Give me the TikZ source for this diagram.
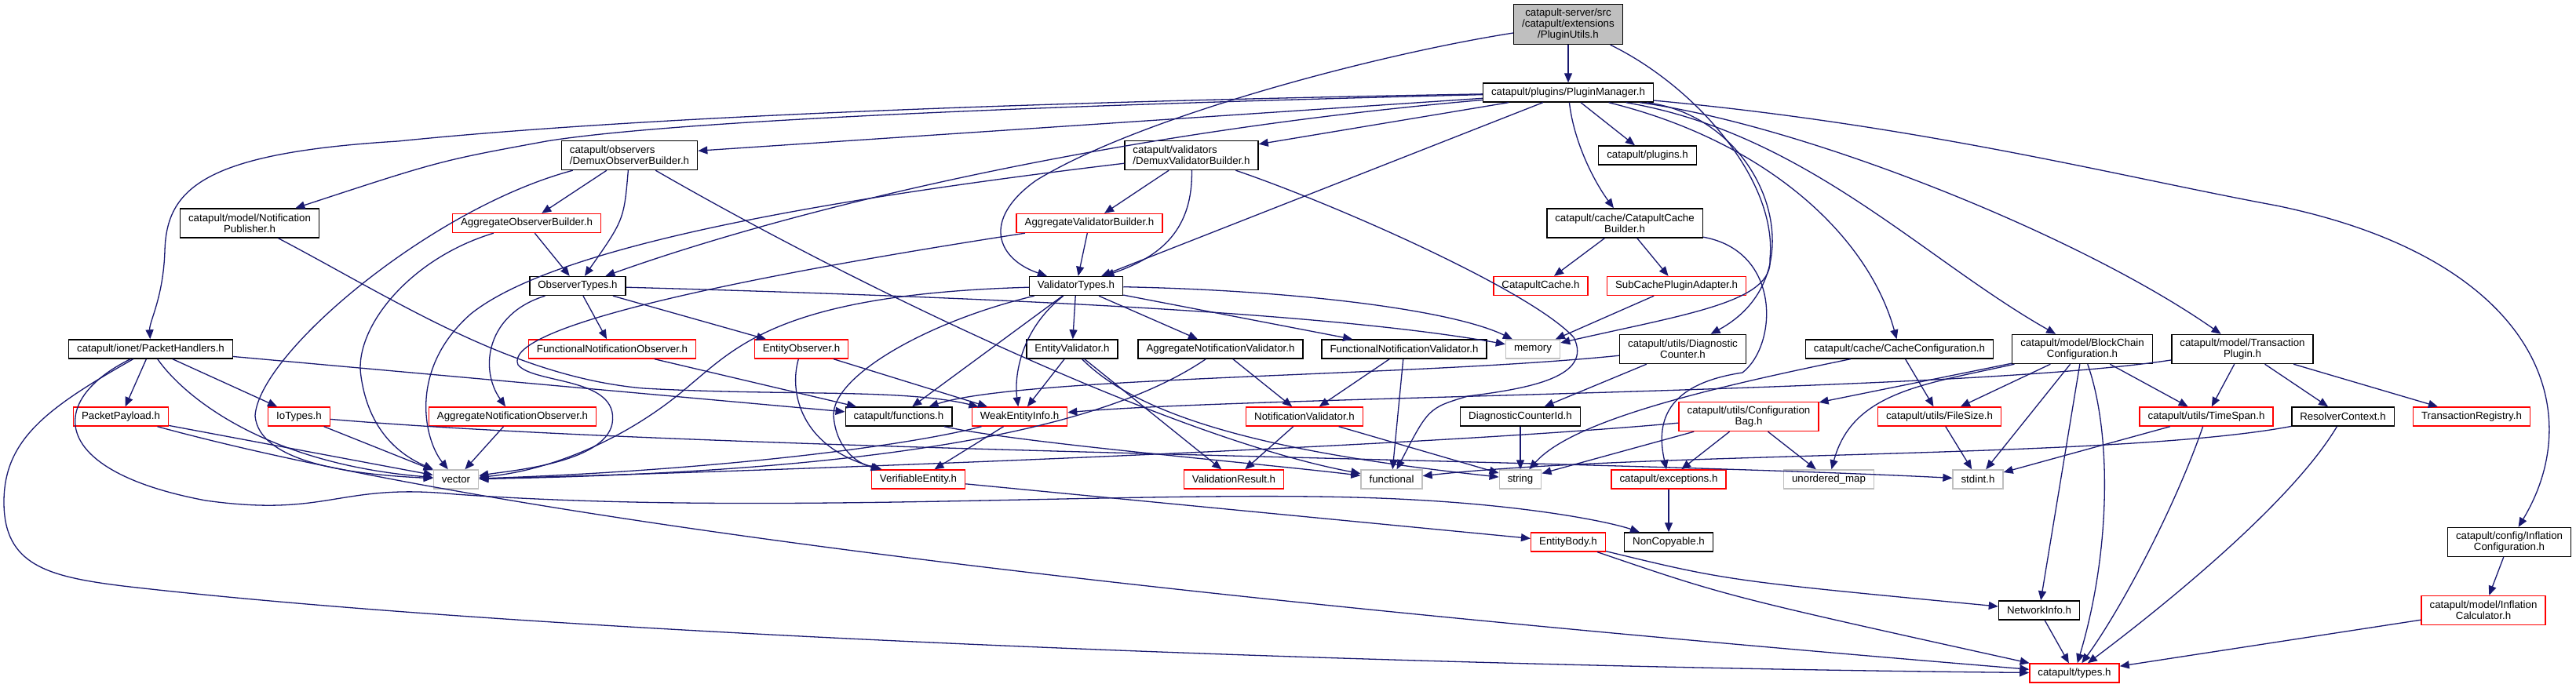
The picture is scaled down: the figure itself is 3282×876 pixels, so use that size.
\documentclass[tikz,border=0pt]{standalone}
\usepackage{fontspec}
\setmainfont{Liberation Sans}
\usetikzlibrary{arrows.meta}
\definecolor{edgeblue}{HTML}{191970}
\definecolor{sysgray}{HTML}{BFBFBF}
\begin{document}
\begin{tikzpicture}[x=1pt, y=-1pt,
    hdr/.style={draw=black, fill=white, line width=1.4pt, inner xsep=10.5pt, inner ysep=0pt,
      minimum height=24pt, font=\fontsize{13.3}{14}\selectfont},
    redhdr/.style={hdr, draw=red},
    syshdr/.style={hdr, draw=sysgray},
    two/.style={minimum height=37pt, align=center},
    twoleft/.style={minimum height=37pt, align=left},
    dep/.style={draw=edgeblue, line width=1.3pt, -{Triangle[length=12pt, width=10pt]}}]
    \useasboundingbox (0,0) rectangle (3282,876);

    % Define node positions
    \node[hdr, two, minimum height=51pt, fill=sysgray] (root) at (1998,31) {catapult-server/src\\/catapult/extensions\\/PluginUtils.h};
    \node[hdr] (pm) at (1998,118) {catapult/plugins/PluginManager.h};
    \node[hdr, twoleft] (dob) at (802,198) {catapult/observers\\/DemuxObserverBuilder.h};
    \node[hdr, twoleft] (dvb) at (1518,198) {catapult/validators\\/DemuxValidatorBuilder.h};
    \node[hdr] (plg) at (2099,198) {catapult/plugins.h};
    \node[hdr, two] (np) at (318,284.5) {catapult/model/Notification\\Publisher.h};
    \node[redhdr] (aob) at (671,284.5) {AggregateObserverBuilder.h};
    \node[redhdr] (avb) at (1388,284.5) {AggregateValidatorBuilder.h};
    \node[hdr, two] (ccb) at (2070,284.5) {catapult/cache/CatapultCache\\Builder.h};
    \node[hdr] (ot) at (736,364.5) {ObserverTypes.h};
    \node[hdr] (vt) at (1371,364.5) {ValidatorTypes.h};
    \node[redhdr] (cc) at (1963,364.5) {CatapultCache.h};
    \node[redhdr] (scpa) at (2136,364.5) {SubCachePluginAdapter.h};
    \node[hdr] (ph) at (192,445) {catapult/ionet/PacketHandlers.h};
    \node[redhdr] (fno) at (780,445) {FunctionalNotificationObserver.h};
    \node[redhdr] (eo) at (1021,445) {EntityObserver.h};
    \node[hdr] (ev) at (1366,445) {EntityValidator.h};
    \node[hdr] (anv) at (1555,445) {AggregateNotificationValidator.h};
    \node[hdr] (fnv) at (1789,445) {FunctionalNotificationValidator.h};
    \node[syshdr] (mem) at (1953,445) {memory};
    \node[hdr, two] (dc) at (2144,445) {catapult/utils/Diagnostic\\Counter.h};
    \node[hdr] (cconf) at (2420,445) {catapult/cache/CacheConfiguration.h};
    \node[hdr, two] (bcc) at (2653,445) {catapult/model/BlockChain\\Configuration.h};
    \node[hdr, two] (tp) at (2857,445) {catapult/model/Transaction\\Plugin.h};
    \node[redhdr] (pp) at (154,531) {PacketPayload.h};
    \node[redhdr] (iot) at (381,531) {IoTypes.h};
    \node[redhdr] (ano) at (653,531) {AggregateNotificationObserver.h};
    \node[hdr] (fun) at (1145,531) {catapult/functions.h};
    \node[redhdr] (wei) at (1299,531) {WeakEntityInfo.h};
    \node[redhdr] (nv) at (1662,531) {NotificationValidator.h};
    \node[hdr] (dcid) at (1937,531) {DiagnosticCounterId.h};
    \node[redhdr, two] (cb) at (2228,531) {catapult/utils/Configuration\\Bag.h};
    \node[redhdr] (fs) at (2471,531) {catapult/utils/FileSize.h};
    \node[redhdr] (ts) at (2811,531) {catapult/utils/TimeSpan.h};
    \node[hdr] (rc) at (2985,531) {ResolverContext.h};
    \node[redhdr] (tr) at (3149,531) {TransactionRegistry.h};
    \node[syshdr] (vec) at (581,611) {vector};
    \node[redhdr] (ve) at (1170,611) {VerifiableEntity.h};
    \node[redhdr] (vr) at (1572,611) {ValidationResult.h};
    \node[syshdr] (fnl) at (1773,611) {functional};
    \node[syshdr] (str) at (1937,611) {string};
    \node[redhdr] (exc) at (2126,611) {catapult/exceptions.h};
    \node[syshdr] (um) at (2330,611) {unordered\_map};
    \node[syshdr] (si) at (2520,611) {stdint.h};
    \node[redhdr] (eb) at (1998,691) {EntityBody.h};
    \node[hdr] (nc) at (2126,691) {NonCopyable.h};
    \node[hdr, two] (ic) at (3197,691) {catapult/config/Inflation\\Configuration.h};
    \node[hdr] (ni) at (2598,778) {NetworkInfo.h};
    \node[redhdr, two] (icalc) at (3164,778) {catapult/model/Inflation\\Calculator.h};
    \node[redhdr] (ty) at (2643,858) {catapult/types.h};

    % Draw arrows
    \draw[dep] (root) -- (pm);
    \draw[dep] (root) .. controls (1750,70) and (1450,150) .. (1320,230) .. controls (1250,280) and (1270,330) .. (vt);
    \draw[dep] (root) .. controls (2160,110) and (2265,230) .. (2255,330) .. controls (2260,385) and (2150,400) .. (mem);

    \draw[dep] (pm) .. controls (1300,130) and (800,150) .. (507,180) .. controls (260,195) and (212,240) .. (210,320) .. controls (208,380) and (190,410) .. (ph);
    \draw[dep] (pm) .. controls (1300,135) and (850,155) .. (696,180) .. controls (560,205) .. (np);
    \draw[dep] (pm) -- (dob);
    \draw[dep] (pm) -- (dvb);
    \draw[dep] (pm) -- (plg);
    \draw[dep] (pm) .. controls (2005,180) and (2030,230) .. (ccb);
    \draw[dep] (pm) .. controls (1400,170) and (1000,270) .. (ot);
    \draw[dep] (pm) -- (vt);
    \draw[dep] (pm) .. controls (2250,150) and (2320,350) .. (dc);
    \draw[dep] (pm) .. controls (2250,180) and (2380,300) .. (cconf);
    \draw[dep] (pm) .. controls (2300,170) and (2450,330) .. (bcc);
    \draw[dep] (pm) .. controls (2300,160) and (2650,300) .. (tp);
    \draw[dep] (pm) .. controls (2450,160) and (2700,225) .. (2900,262) .. controls (3230,330) and (3300,520) .. (ic);

    \draw[dep] (dob) .. controls (550,265) and (330,450) .. (325,530) .. controls (330,590) and (450,605) .. (vec);
    \draw[dep] (dob) -- (aob);
    \draw[dep] (dob) .. controls (795,280) .. (ot);
    \draw[dep] (dob) .. controls (1100,370) and (1500,560) .. (fnl);

    \draw[dep] (dvb) .. controls (1000,260) and (700,320) .. (600,400) .. controls (520,470) and (540,560) .. (vec);
    \draw[dep] (dvb) -- (avb);
    \draw[dep] (dvb) .. controls (1520,300) and (1470,330) .. (vt);
    \draw[dep] (dvb) .. controls (1700,260) and (1950,370) .. (2005,430) .. controls (2030,480) and (1950,495) .. (1870,505) .. controls (1820,520) .. (fnl);

    \draw[dep] (np) .. controls (500,380) and (650,480) .. (820,495) .. controls (1000,505) and (1150,495) .. (wei);

    \draw[dep] (aob) .. controls (520,330) and (450,420) .. (460,480) .. controls (470,550) and (510,580) .. (vec);
    \draw[dep] (aob) -- (ot);

    \draw[dep] (avb) .. controls (900,360) and (640,420) .. (660,465) .. controls (680,490) and (790,480) .. (780,540) .. controls (770,590) and (650,600) .. (vec);
    \draw[dep] (avb) -- (vt);

    \draw[dep] (ccb) -- (cc);
    \draw[dep] (ccb) -- (scpa);
    \draw[dep] (ccb) .. controls (2270,320) and (2265,440) .. (2220,475) .. controls (2120,490) and (2110,540) .. (exc);

    \draw[dep] (ot) .. controls (1300,380) and (1700,400) .. (mem);
    \draw[dep] (ot) .. controls (620,400) and (610,470) .. (ano);
    \draw[dep] (ot) -- (fno);
    \draw[dep] (ot) -- (eo);

    \draw[dep] (vt) .. controls (1000,375) and (940,440) .. (880,490) .. controls (800,560) and (700,600) .. (vec);
    \draw[dep] (vt) .. controls (1180,410) and (1060,480) .. (1062,530) .. controls (1065,570) and (1090,590) .. (ve);
    \draw[dep] (vt) -- (fun);
    \draw[dep] (vt) .. controls (1300,420) and (1292,480) .. (wei);
    \draw[dep] (vt) -- (ev);
    \draw[dep] (vt) -- (anv);
    \draw[dep] (vt) -- (fnv);
    \draw[dep] (vt) .. controls (1650,370) and (1850,395) .. (mem);

    \draw[dep] (scpa) -- (mem);

    \draw[dep] (ph) -- (pp);
    \draw[dep] (ph) -- (iot);
    \draw[dep] (ph) .. controls (230,500) and (330,590) .. (vec);
    \draw[dep] (ph) -- (fun);
    \draw[dep] (ph) .. controls (60,510) and (60,600) .. (262,638) .. controls (420,660) and (430,615) .. (580,630) .. controls (1000,660) and (1500,620) .. (1800,637) .. controls (1950,645) and (2050,665) .. (nc);
    \draw[dep] (ph) .. controls (60,520) and (5,560) .. (5,640) .. controls (5,720) and (60,735) .. (157,747) .. controls (700,810) and (1800,850) .. (ty);

    \draw[dep] (pp) -- (vec);
    \draw[dep] (pp) .. controls (700,680) and (1700,780) .. (ty);

    \draw[dep] (iot) -- (vec);
    \draw[dep] (iot) .. controls (900,575) and (2000,585) .. (si);

    \draw[dep] (ano) -- (vec);
    \draw[dep] (fno) -- (fun);

    \draw[dep] (eo) .. controls (1005,500) and (1020,570) .. (ve);
    \draw[dep] (eo) -- (wei);

    \draw[dep] (ev) -- (wei);
    \draw[dep] (ev) -- (vr);
    \draw[dep] (ev) .. controls (1460,540) and (1650,580) .. (str);

    \draw[dep] (anv) .. controls (1430,530) and (1200,600) .. (vec);
    \draw[dep] (anv) -- (nv);

    \draw[dep] (fnv) -- (nv);
    \draw[dep] (fnv) -- (fnl);

    \draw[dep] (dc) .. controls (1800,480) and (1300,480) .. (fun);
    \draw[dep] (dc) -- (dcid);

    \draw[dep] (cconf) .. controls (2150,500) and (2000,540) .. (str);
    \draw[dep] (cconf) -- (fs);

    \draw[dep] (bcc) -- (cb);
    \draw[dep] (bcc) .. controls (2450,490) and (2360,500) .. (um);
    \draw[dep] (bcc) -- (fs);
    \draw[dep] (bcc) -- (si);
    \draw[dep] (bcc) -- (ni);
    \draw[dep] (bcc) .. controls (2690,550) and (2690,700) .. (ty);
    \draw[dep] (bcc) -- (ts);

    \draw[dep] (tp) .. controls (2500,500) and (1600,505) .. (wei);
    \draw[dep] (tp) -- (ts);
    \draw[dep] (tp) -- (rc);
    \draw[dep] (tp) -- (tr);

    \draw[dep] (cb) .. controls (1800,570) and (1000,600) .. (vec);
    \draw[dep] (cb) -- (str);
    \draw[dep] (cb) -- (exc);
    \draw[dep] (cb) -- (um);

    \draw[dep] (fs) -- (si);
    \draw[dep] (ts) -- (si);
    \draw[dep] (ts) .. controls (2770,650) and (2700,780) .. (ty);
    \draw[dep] (rc) .. controls (2920,640) and (2760,770) .. (ty);
    \draw[dep] (rc) .. controls (2700,585) and (2100,575) .. (fnl);

    \draw[dep] (fun) .. controls (1300,565) and (1600,590) .. (fnl);
    \draw[dep] (wei) .. controls (1150,570) and (900,600) .. (vec);
    \draw[dep] (wei) -- (ve);
    \draw[dep] (nv) -- (vr);
    \draw[dep] (nv) -- (str);
    \draw[dep] (dcid) -- (str);
    \draw[dep] (exc) -- (nc);
    \draw[dep] (ve) -- (eb);
    \draw[dep] (eb) .. controls (2200,740) .. (ni);
    \draw[dep] (eb) .. controls (2200,760) .. (ty);
    \draw[dep] (ic) -- (icalc);
    \draw[dep] (icalc) -- (ty);
    \draw[dep] (ni) -- (ty);
\end{tikzpicture}
\end{document}
